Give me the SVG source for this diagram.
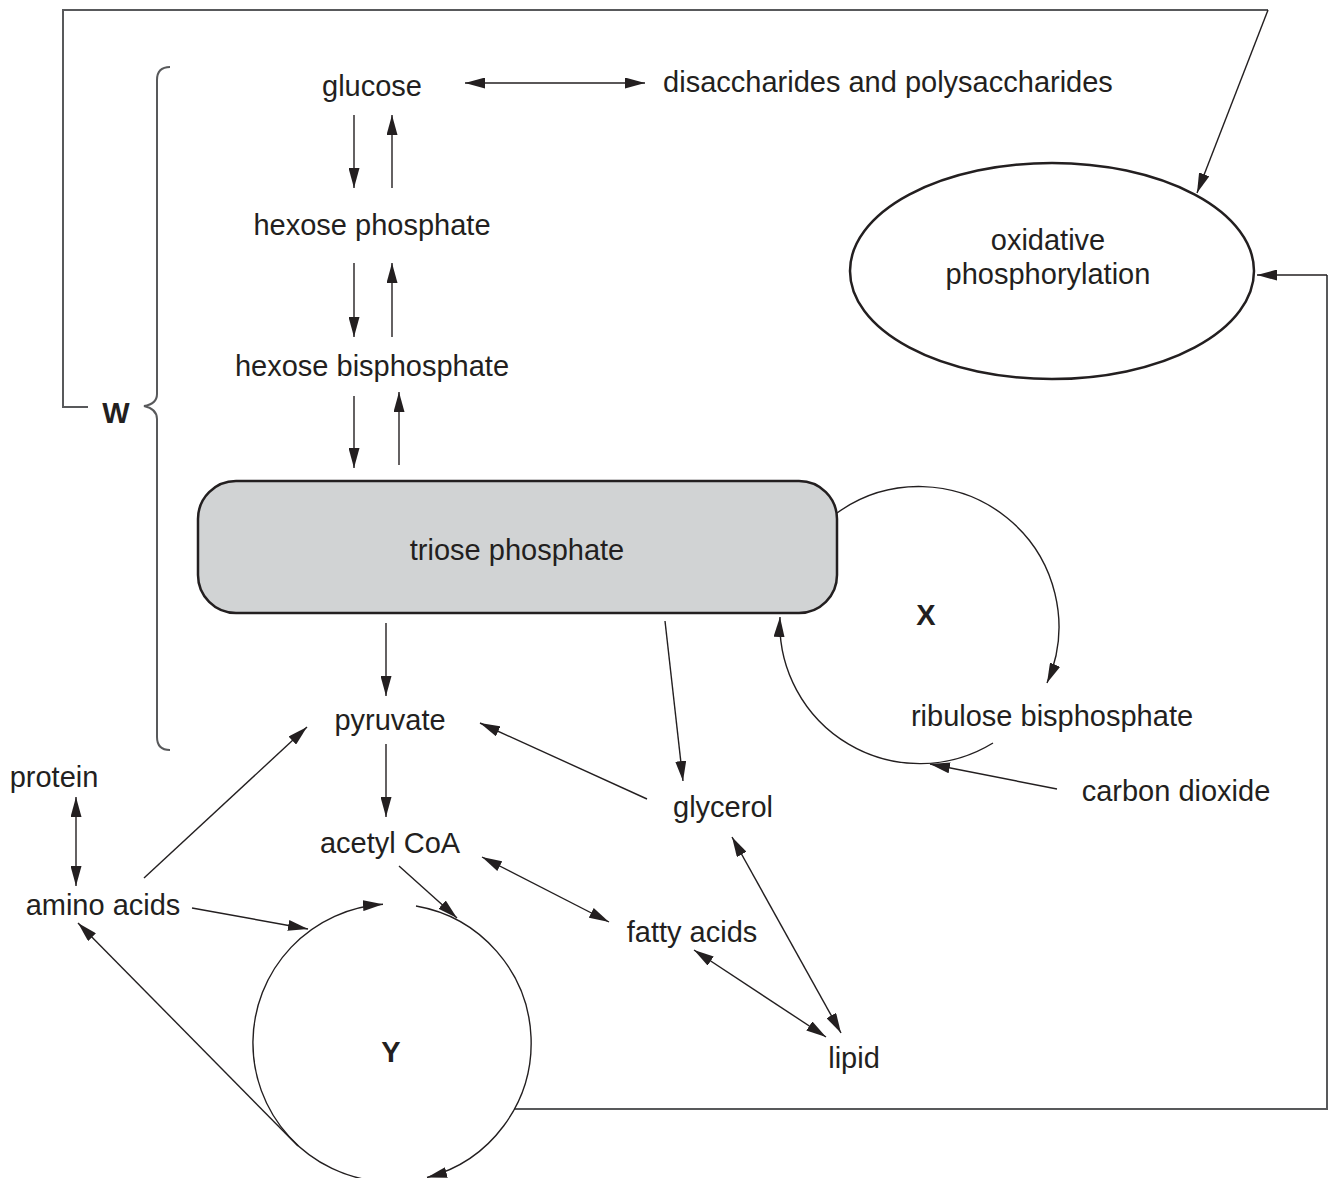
<svg xmlns="http://www.w3.org/2000/svg" width="1329" height="1178" viewBox="0 0 1329 1178">
<defs>
<marker id="ah" viewBox="0 0 20 11" refX="20" refY="5.5" markerWidth="20" markerHeight="11" markerUnits="userSpaceOnUse" orient="auto-start-reverse">
<path d="M0,0 L20,5.5 L0,11 z" fill="#231f20"/>
</marker>
<style>
text{font-family:"Liberation Sans",Arial,Helvetica,sans-serif;font-size:29px;fill:#231f20;text-anchor:middle}
.b{font-weight:bold}
.c{fill:none;stroke:#231f20;stroke-width:1.4}
.e{marker-end:url(#ah)}
.s{marker-start:url(#ah)}
.f{fill:none;stroke:#58595b;stroke-width:2}
</style>
</defs>
<rect width="1329" height="1178" fill="#ffffff"/>

<g id="frame">
<path class="f" d="M88,407 H63 V10 H1268"/>
<path class="f" d="M514,1109 H1327 V275"/>
<path class="f" d="M170,67 Q157,67 157,80 V394 Q157,404 144,406 Q157,409 157,419 V737 Q157,750 170,750"/>
</g>

<g id="connectors">
<path class="c e s" d="M465,83 H645"/>
<path class="c e" d="M354,115 V188"/>
<path class="c e" d="M392,188 V115"/>
<path class="c e" d="M354,263 V337"/>
<path class="c e" d="M392,337 V263"/>
<path class="c e" d="M354,396 V468"/>
<path class="c e" d="M399,465 V392"/>
<path class="c e" d="M386,623 V696"/>
<path class="c e" d="M386,744 V817"/>
<path class="c e" d="M665,621 L683,781"/>
<path class="c e" d="M647,799 L480,723"/>
<path class="c e s" d="M482,857 L609,922"/>
<path class="c e" d="M399,866 L457,918"/>
<path class="c e s" d="M694,950 L826,1037"/>
<path class="c e s" d="M732,837 L841,1033"/>
<path class="c e s" d="M76,797 V886"/>
<path class="c e" d="M144,878 L307,727"/>
<path class="c e" d="M192,908 L308,929"/>
<path class="c e" d="M298,1146 L78,923"/>
<path class="c e" d="M1057,789 L930,764"/>
<path class="c e" d="M1268,10 L1197,193"/>
<path class="c e" d="M1327,275 H1257"/>
<path class="c e" d="M837,513 A140,140 0 0 1 1047,683"/>
<path class="c e" d="M993,743 A140,140 0 0 1 780,617"/>
<path class="c e" d="M380,1181.5 A139,139 0 0 1 383,904.3"/>
<path class="c e" d="M416,906 A139,139 0 0 1 427,1177.5"/>
</g>

<g id="node-triose">
<rect x="198" y="481" width="639" height="132" rx="38" ry="38" fill="#d1d3d4" stroke="#231f20" stroke-width="2.5"/>
<text x="517" y="560">triose phosphate</text>
</g>
<g id="node-oxphos">
<ellipse cx="1052" cy="271" rx="202" ry="108" fill="#ffffff" stroke="#231f20" stroke-width="2.5"/>
<text x="1048" y="250">oxidative</text>
<text x="1048" y="284">phosphorylation</text>
</g>
<g id="node-glucose"><text x="372" y="96">glucose</text></g>
<g id="node-disacch"><text x="888" y="92">disaccharides and polysaccharides</text></g>
<g id="node-hexp"><text x="372" y="235">hexose phosphate</text></g>
<g id="node-hexbp"><text x="372" y="376">hexose bisphosphate</text></g>
<g id="node-pyruvate"><text x="390" y="730">pyruvate</text></g>
<g id="node-acetyl"><text x="390" y="853">acetyl CoA</text></g>
<g id="node-glycerol"><text x="723" y="817">glycerol</text></g>
<g id="node-fatty"><text x="692" y="942">fatty acids</text></g>
<g id="node-lipid"><text x="854" y="1068">lipid</text></g>
<g id="node-rubp"><text x="1052" y="726">ribulose bisphosphate</text></g>
<g id="node-co2"><text x="1176" y="801">carbon dioxide</text></g>
<g id="node-protein"><text x="54" y="787">protein</text></g>
<g id="node-amino"><text x="103" y="915">amino acids</text></g>
<g id="label-W"><text class="b" x="116" y="423">W</text></g>
<g id="label-X"><text class="b" x="926" y="625">X</text></g>
<g id="label-Y"><text class="b" x="391" y="1062">Y</text></g>
</svg>
